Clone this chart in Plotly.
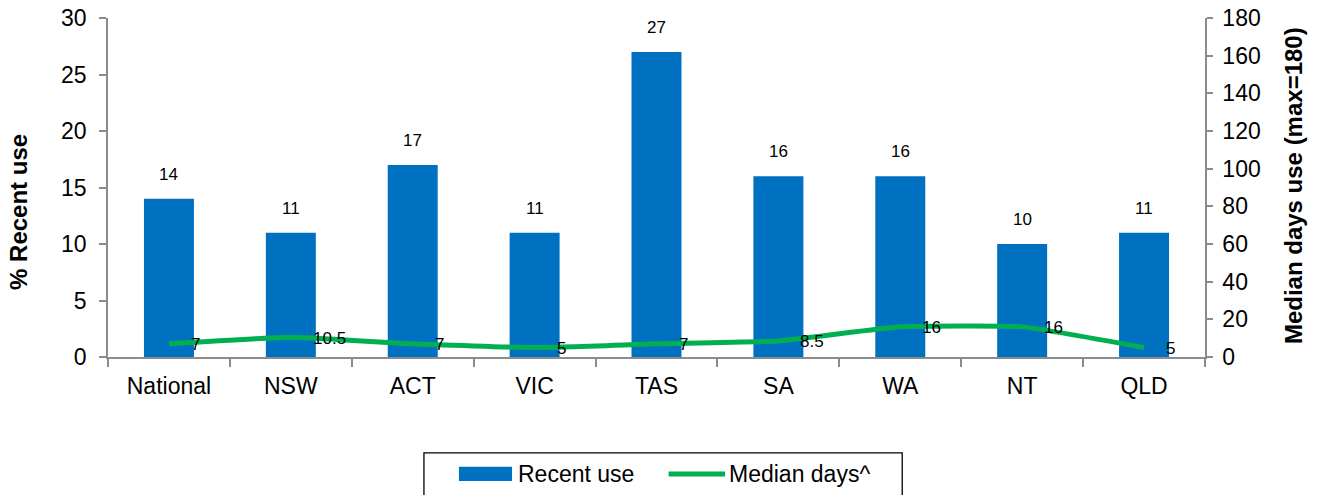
import plotly.graph_objects as go

regions = ["National", "NSW", "ACT", "VIC", "TAS", "SA", "WA", "NT", "QLD"]
recent_use = [14, 11, 17, 11, 27, 16, 16, 10, 11]
median_days = [7, 10.5, 7, 5, 7, 8.5, 16, 16, 5]
median_labels = ["7", "10.5", "7", "5", "7", "8.5", "16", "16", "5"]

BAR_BLUE = "#0070C0"
LINE_GREEN = "#00B050"
AXIS_GREY = "#8C8C8C"
FONT = "Liberation Sans, Arial, sans-serif"

fig = go.Figure()

fig.add_trace(go.Bar(
    x=regions, y=recent_use, name="Recent use",
    marker=dict(color=BAR_BLUE, line=dict(width=0)),
    width=0.41, showlegend=False, hoverinfo="x+y",
))

fig.add_trace(go.Scatter(
    x=regions, y=median_days, name="Median days^", yaxis="y2",
    mode="lines", line=dict(color=LINE_GREEN, width=5, shape="spline", smoothing=0.4),
    showlegend=False,
))

# value labels above the bars
for r, v in zip(regions, recent_use):
    fig.add_annotation(x=r, y=v, xref="x", yref="y", text=str(v),
                       showarrow=False, yanchor="bottom", yshift=13,
                       font=dict(size=17, color="black", family=FONT))

# value labels to the right of the line points
for r, v, t in zip(regions, median_days, median_labels):
    fig.add_annotation(x=r, y=v, xref="x", yref="y2", text=t,
                       showarrow=False, xanchor="left", xshift=20, yshift=-1,
                       font=dict(size=17, color="black", family=FONT))

# axis titles
fig.add_annotation(xref="paper", yref="paper", x=-0.0811, y=0.428, text="<b>% Recent use</b>",
                   textangle=-90, showarrow=False, xanchor="center", yanchor="middle",
                   font=dict(size=24, color="black", family=FONT))
fig.add_annotation(xref="paper", yref="paper", x=1.0802, y=0.507,
                   text="<b>Median days use (max=180)</b>",
                   textangle=-90, showarrow=False, xanchor="center", yanchor="middle",
                   font=dict(size=24, color="black", family=FONT))

# legend box drawn in paper space
lx0, lx1, ly0, ly1 = 0.2880, 0.7240, -0.45, -0.283
fig.add_shape(type="rect", xref="paper", yref="paper", x0=lx0, x1=lx1, y0=ly0, y1=ly1,
              line=dict(color="black", width=1.3), fillcolor="white")
fig.add_shape(type="rect", xref="paper", yref="paper", x0=0.3199, x1=0.3683,
              y0=-0.366, y1=-0.324, line=dict(width=0), fillcolor=BAR_BLUE)
fig.add_annotation(xref="paper", yref="paper", x=0.3715, y=-0.345, text="Recent use",
                   showarrow=False, xanchor="left", yanchor="middle",
                   font=dict(size=23, color="black", family=FONT))
fig.add_shape(type="line", xref="paper", yref="paper", x0=0.5110, x1=0.5625,
              y0=-0.345, y1=-0.345, line=dict(color=LINE_GREEN, width=5))
fig.add_annotation(xref="paper", yref="paper", x=0.5640, y=-0.345, text="Median days^",
                   showarrow=False, xanchor="left", yanchor="middle",
                   font=dict(size=23, color="black", family=FONT))

fig.update_layout(
    width=1317, height=495,
    margin=dict(l=108, r=112, t=18, b=138, autoexpand=False),
    paper_bgcolor="white", plot_bgcolor="white",
    font=dict(family=FONT, color="black"),
    bargap=0.59,
    xaxis=dict(
        showline=True, linecolor=AXIS_GREY, linewidth=1.5,
        ticks="outside", ticklen=8, tickcolor=AXIS_GREY, tickwidth=1.5,
        tickson="boundaries", tickfont=dict(size=23), ticklabelstandoff=8,
        showgrid=False, zeroline=False, automargin=False,
    ),
    yaxis=dict(
        range=[0, 30], dtick=5, tickfont=dict(size=23), ticklabelstandoff=8,
        showline=True, linecolor=AXIS_GREY, linewidth=1.5,
        ticks="outside", ticklen=7, tickcolor=AXIS_GREY, tickwidth=1.5,
        showgrid=False, zeroline=False, automargin=False,
    ),
    yaxis2=dict(
        range=[0, 180], dtick=20, tickfont=dict(size=23), ticklabelstandoff=5,
        overlaying="y", side="right",
        showline=True, linecolor=AXIS_GREY, linewidth=1.5,
        ticks="outside", ticklen=6, tickcolor=AXIS_GREY, tickwidth=1.5,
        showgrid=False, zeroline=False, automargin=False,
    ),
    showlegend=False,
)

fig.write_html("out.html")
